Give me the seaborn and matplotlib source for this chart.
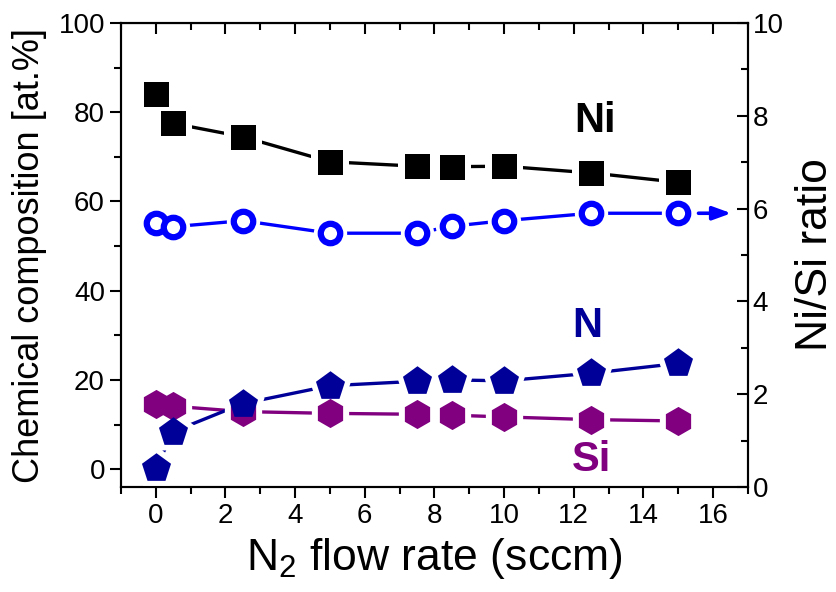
import numpy as np
import pandas as pd
import seaborn as sns
import matplotlib.pyplot as plt
from matplotlib.ticker import MultipleLocator

# data
flow = [0, 0.5, 2.5, 5, 7.5, 8.5, 10, 12.5, 15]
ni = [84.2, 77.5, 74.5, 68.9, 67.9, 67.8, 67.9, 66.4, 64.3]
n = [0.2, 8.4, 14.7, 18.7, 19.7, 20.0, 19.8, 21.5, 23.7]
si = [14.7, 14.1, 12.9, 12.5, 12.3, 12.1, 11.7, 11.1, 10.8]
ratio = [5.70, 5.61, 5.74, 5.47, 5.47, 5.62, 5.74, 5.90, 5.90]

veri = pd.DataFrame({"flow": flow, "Ni": ni, "N": n, "Si": si, "ratio": ratio})

sns.set_style("ticks")
plt.rcParams['font.family'] = ['Liberation Sans', 'DejaVu Sans']
plt.rcParams['mathtext.fontset'] = 'custom'
plt.rcParams['mathtext.rm'] = 'Liberation Sans'
for k in ("text.color", "axes.labelcolor", "xtick.color", "ytick.color", "axes.edgecolor"):
    plt.rcParams[k] = "black"

fig = plt.figure(figsize=(8.36, 5.92), dpi=100)
ax = fig.add_axes([0.1447, 0.1774, 0.75, 0.7837])
ax2 = ax.twinx()


def seri(a, y, renk, isaret, boy, acik=False):
    sns.lineplot(data=veri, x="flow", y=y, color=renk, lw=2.4, ax=a, sort=True)
    # white halo so the line stops short of each marker
    sns.scatterplot(data=veri, x="flow", y=y, color="white", marker=isaret,
                    s=(boy + 10) ** 2, linewidth=0, ax=a, zorder=3)
    if acik:
        sns.scatterplot(data=veri, x="flow", y=y, marker=isaret, s=boy ** 2,
                        facecolor="white", edgecolor=renk, linewidth=4.5,
                        ax=a, zorder=4)
    else:
        sns.scatterplot(data=veri, x="flow", y=y, color=renk, marker=isaret,
                        s=boy ** 2, linewidth=0, ax=a, zorder=4)


seri(ax, "Ni", "black", "s", 18)
seri(ax, "Si", "#800080", "h", 21)
seri(ax, "N", "#000099", "p", 22)
seri(ax2, "ratio", "#0000FF", "o", 14, acik=True)

ax2.annotate("", xy=(16.6, 5.9), xytext=(15.5, 5.9),
             arrowprops=dict(arrowstyle="-|>,head_length=1.1,head_width=0.4",
                             color="#0000FF", lw=2.6))

ax.set_xlim(-1, 17)
ax.set_ylim(-4, 100)
ax2.set_ylim(0, 10)

ax.xaxis.set_major_locator(MultipleLocator(2))
ax.xaxis.set_minor_locator(MultipleLocator(1))
ax.yaxis.set_major_locator(MultipleLocator(20))
ax.yaxis.set_minor_locator(MultipleLocator(10))
ax2.yaxis.set_major_locator(MultipleLocator(2))
ax2.yaxis.set_minor_locator(MultipleLocator(1))

# top axis: ticks pointing inward, no labels
ust = ax.secondary_xaxis("top")
ust.xaxis.set_major_locator(MultipleLocator(2))
ust.xaxis.set_minor_locator(MultipleLocator(1))
ust.tick_params(which="both", direction="in", labeltop=False, width=1.5)
ust.tick_params(which="major", length=8)
ust.tick_params(which="minor", length=5)

ax.tick_params(axis="x", which="both", labelsize=20, width=1.5, direction="out")
ax.tick_params(axis="x", which="major", length=8)
ax.tick_params(axis="x", which="minor", length=5)
ax.tick_params(axis="y", which="both", labelsize=20, width=1.5, direction="out")
ax.tick_params(axis="y", which="major", length=8)
ax.tick_params(axis="y", which="minor", length=5)
ax2.tick_params(axis="y", which="both", labelsize=20, width=1.5, direction="in")
ax2.tick_params(axis="y", which="major", length=8)
ax2.tick_params(axis="y", which="minor", length=5)

for a in (ax, ax2):
    for sp in a.spines.values():
        sp.set_linewidth(1.5)
        sp.set_visible(True)

ax.set_xlabel(r"N$_2$ flow rate (sccm)", fontsize=32, labelpad=5)
ax.set_ylabel("Chemical composition [at.%]", fontsize=26, labelpad=8)
ax2.set_ylabel("Ni/Si ratio", fontsize=32, labelpad=8)

ax.text(12.6, 78, "Ni", fontsize=30, fontweight="bold", color="black",
        ha="center", va="center")
ax.text(12.4, 32, "N", fontsize=30, fontweight="bold", color="#000099",
        ha="center", va="center")
ax.text(12.5, 2, "Si", fontsize=30, fontweight="bold", color="#800080",
        ha="center", va="center")

plt.savefig("out.png", dpi=100)
